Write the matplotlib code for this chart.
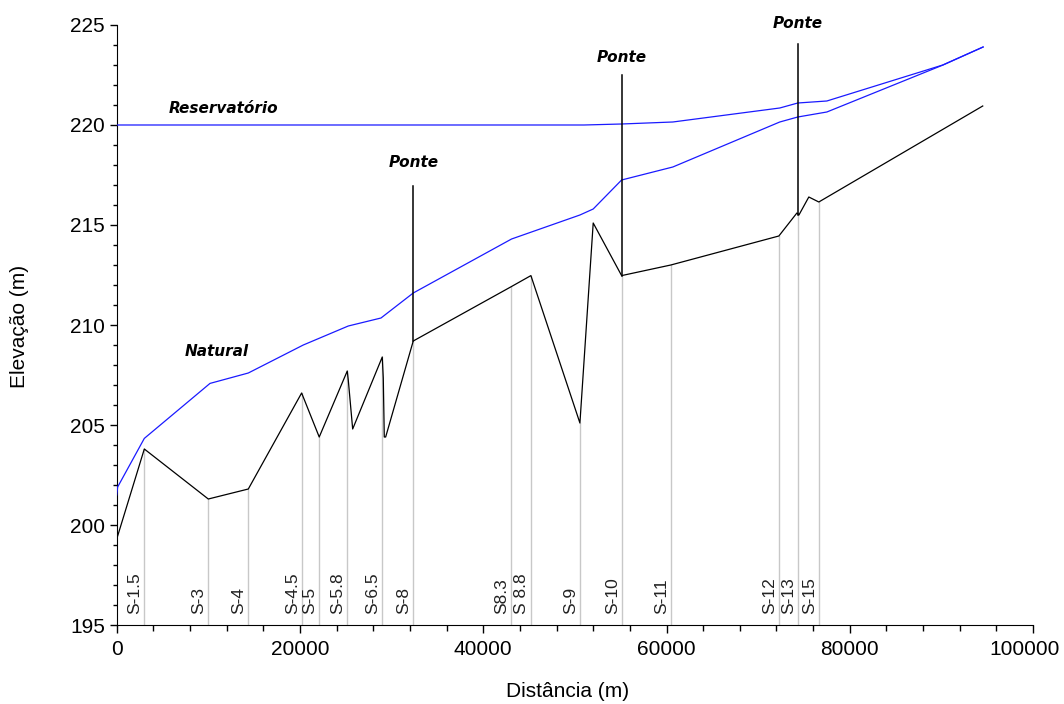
"""
Perfil longitudinal: leito natural, linhas d'agua e pontes
"""
import matplotlib
matplotlib.use("Agg")
import matplotlib.pyplot as plt
import matplotlib.transforms as mtransforms

# leito do rio (linha preta)
bed_dist = [0, 3011, 9994, 14360, 20180, 22100, 25160, 25270, 25750, 28980, 29090,
            29200, 29350, 32360, 42990, 45200, 50550, 52000, 55100, 60470, 72260,
            74230, 74450, 75530, 76620, 94510]
bed_elev = [199.3, 203.8, 201.3, 201.8, 206.6, 204.4, 207.7, 207.25, 204.8, 208.4, 207.35,
            204.4, 204.4, 209.2, 211.9, 212.47, 205.1, 215.1, 212.47, 213.0, 214.45,
            215.6, 215.5, 216.4, 216.15, 220.95]

# linha d'agua - condicao natural
nat_dist = [0, 100, 3011, 10180, 14360, 20360, 25270, 28840, 32360, 43090, 50550,
            52000, 55100, 60690, 72360, 74330, 77500, 90180, 94550]
nat_elev = [201.5, 201.9, 204.33, 207.08, 207.6, 209.0, 209.95, 210.35, 211.6, 214.3, 215.5,
            215.8, 217.25, 217.9, 220.15, 220.4, 220.65, 223.0, 223.9]

# linha d'agua - reservatorio
res_dist = [0, 51000, 55100, 60690, 72360, 74330, 77500, 90150, 94550]
res_elev = [220.0, 220.0, 220.05, 220.15, 220.85, 221.1, 221.2, 223.0, 223.9]

# secoes
sec_names = ["S-1.5", "S-3", "S-4", "S-4.5", "S-5", "S-5.8", "S-6.5", "S-8", "S8.3",
             "S 8.8", "S-9", "S-10", "S-11", "S-12", "S-13", "S-15"]
sec_dist = [3011, 9994, 14360, 20180, 22100, 25160, 28980, 32360, 42990,
            45200, 50550, 55100, 60470, 72260, 74330, 76620]
sec_elev = [203.8, 201.3, 201.8, 206.6, 204.4, 207.7, 208.4, 209.2, 211.9,
            212.47, 205.1, 212.47, 213.0, 214.45, 215.6, 216.15]

# pontes
bridge_dist = [32360, 55100, 74330]
bridge_base = [209.2, 212.47, 215.5]
bridge_top = [216.95, 222.5, 224.05]
bridge_lbl_y = [218.1, 223.35, 225.05]

plt.rcParams['font.family'] = ['Liberation Sans', 'DejaVu Sans']

fig = plt.figure(figsize=(10.64, 7.04), dpi=100)
ax = fig.add_axes([0.1097, 0.1122, 0.8612, 0.8523])

# linhas das secoes
for d, e, name in zip(sec_dist, sec_elev, sec_names):
    ax.plot([d, d], [195, e], color='#c8c8c8', lw=1.0, zorder=1)
    ax.annotate(name, xy=(d, 195), xytext=(-1.2, 8), textcoords='offset points',
                rotation=90, ha='right', va='bottom', fontsize=12.5, color='#222222',
                family=['Liberation Sans Narrow', 'Liberation Sans'])

ax.plot(res_dist, res_elev, color='#1a1aff', lw=0.9, zorder=3)
ax.plot(nat_dist, nat_elev, color='#1a1aff', lw=0.9, zorder=3)
ax.plot(bed_dist, bed_elev, color='black', lw=0.9, zorder=4)

for d, b, t, ly in zip(bridge_dist, bridge_base, bridge_top, bridge_lbl_y):
    ax.plot([d, d], [b, t], color='black', lw=1.1, zorder=5)
    ax.text(d, ly, "Ponte", family='DejaVu Sans', fontweight='bold', fontstyle='italic',
            fontsize=11, ha='center', va='center')

ax.text(11630, 220.8, "Reservatório", family='DejaVu Sans', fontweight='bold',
        fontstyle='italic', fontsize=11, ha='center', va='center')
ax.text(10940, 208.7, "Natural", family='DejaVu Sans', fontweight='bold',
        fontstyle='italic', fontsize=11, ha='center', va='center')

ax.set_xlim(0, 100000)
ax.set_ylim(195, 225)
ax.set_xticks(range(0, 100001, 20000))
ax.set_xticks(range(0, 100001, 4000), minor=True)
ax.set_yticks(range(195, 226, 5))
ax.set_yticks(range(195, 226, 1), minor=True)

ax.spines['top'].set_visible(False)
ax.spines['right'].set_visible(False)
ax.tick_params(axis='x', which='major', direction='out', length=6, width=1, labelsize=15, pad=5)
ax.tick_params(axis='x', which='minor', direction='out', length=4.3, width=1)
ax.tick_params(axis='y', which='major', direction='out', length=5, width=1, labelsize=15, pad=3.5)
ax.tick_params(axis='y', which='minor', direction='out', length=3, width=1)

# o ultimo rotulo (100000) fica um pouco para dentro, como no original
last = ax.get_xticklabels()[-1]
last.set_transform(last.get_transform() + mtransforms.ScaledTranslation(-6 / 72, 0, fig.dpi_scale_trans))

ax.set_xlabel("Distância (m)", fontsize=15)
ax.set_ylabel("Elevação (m)", fontsize=15)
ax.xaxis.set_label_coords(0.492, -0.095)
ax.yaxis.set_label_coords(-0.096, 0.497)

fig.savefig("out.png", dpi=100)
